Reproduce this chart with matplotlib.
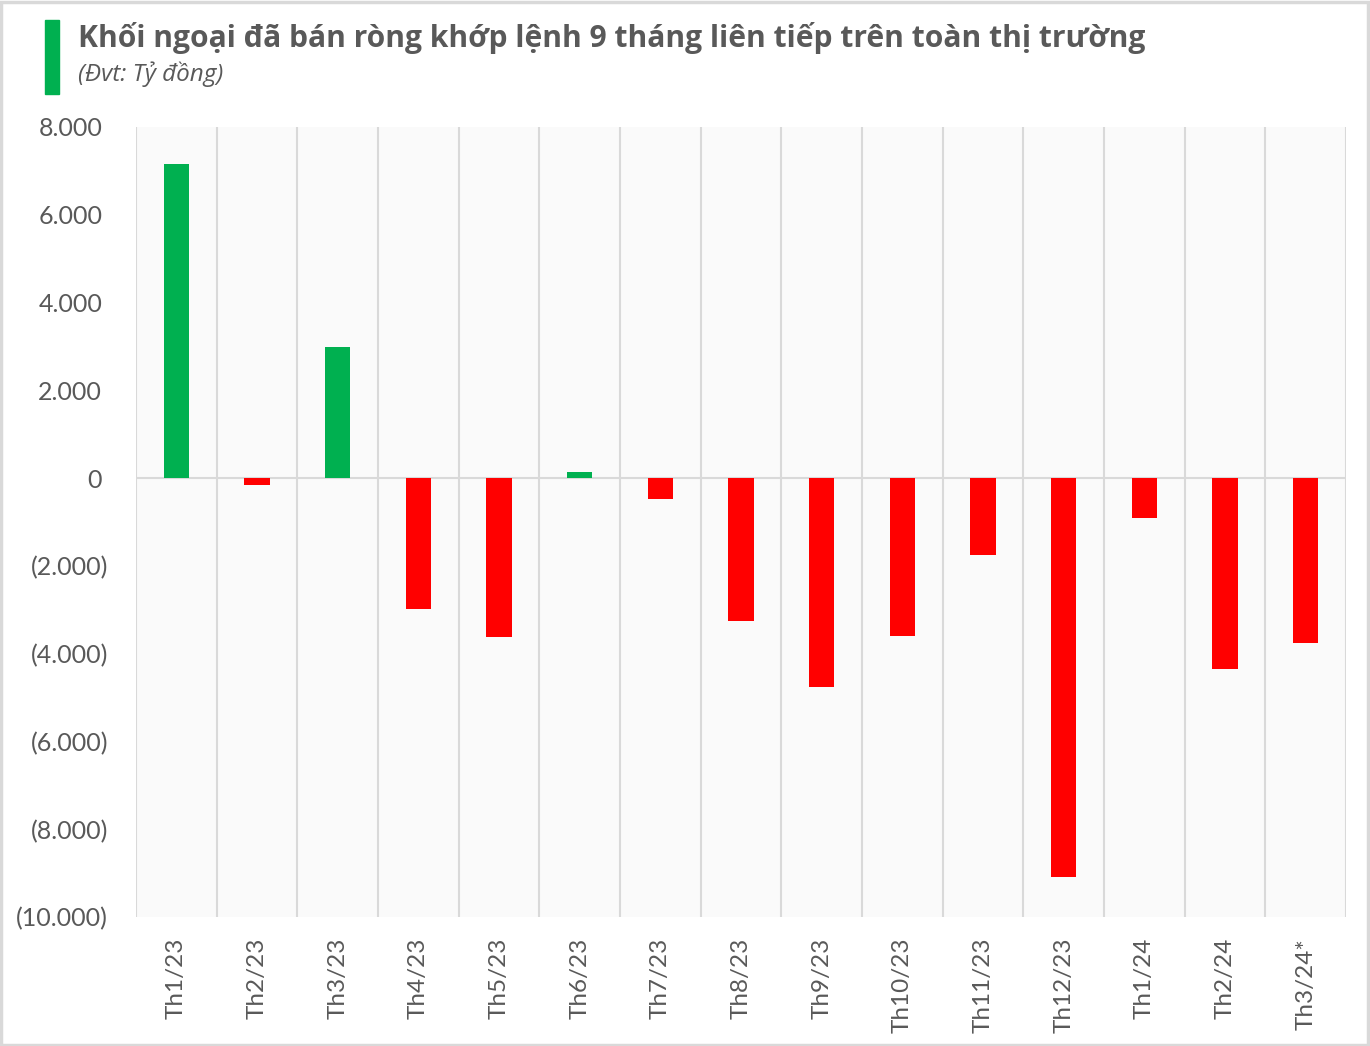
import matplotlib
matplotlib.use("Agg")
import matplotlib.pyplot as plt
from matplotlib.patches import Rectangle
from matplotlib.ticker import FuncFormatter, MultipleLocator
from matplotlib.transforms import ScaledTranslation

categories = ["Th1/23", "Th2/23", "Th3/23", "Th4/23", "Th5/23", "Th6/23", "Th7/23",
              "Th8/23", "Th9/23", "Th10/23", "Th11/23", "Th12/23", "Th1/24", "Th2/24", "Th3/24*"]
values = [7160, -160, 2980, -2980, -3610, 140, -470, -3250, -4750, -3590, -1750,
          -9090, -910, -4340, -3750]

title = "Khối ngoại đã bán ròng khớp lệnh 9 tháng liên tiếp trên toàn thị trường"
subtitle = "(Đvt: Tỷ đồng)"

GREEN = "#00B050"
RED = "#FF0000"
TXT = "#595959"
GRID = "#D9D9D9"

fig = plt.figure(figsize=(13.7, 10.46), dpi=100)
W, H = 1370, 1046
ax = fig.add_axes([136 / W, 1 - 917 / H, (1346 - 136) / W, (917 - 127) / H])

colors = [GREEN if v >= 0 else RED for v in values]
x = list(range(len(categories)))
ax.bar(x, values, width=0.31, color=colors, zorder=3)

ax.set_xlim(-0.5, len(categories) - 0.5)
ax.set_ylim(-10000, 8000)
ax.set_facecolor("#FAFAFA")

# vertical category separators
for b in range(len(categories) + 1):
    ax.axvline(b - 0.5, color=GRID, lw=1.5, zorder=1)
ax.axhline(0, color=GRID, lw=1.5, zorder=2)

for s in ax.spines.values():
    s.set_visible(False)

ax.yaxis.set_major_locator(MultipleLocator(2000))

def fmt(v, pos):
    n = int(round(v))
    s = f"{abs(n):,}".replace(",", ".")
    return f"({s})" if n < 0 else s

ax.yaxis.set_major_formatter(FuncFormatter(fmt))
ax.tick_params(axis="y", length=0, pad=20, labelsize=18, labelcolor=TXT)
ax.set_xticks(x)
ax.set_xticklabels(categories, rotation=90)
ax.tick_params(axis="x", length=0, pad=15, labelsize=17.5, labelcolor=TXT)

fig.canvas.draw()
for lab in ax.get_xticklabels() + ax.get_yticklabels():
    lab.set_family("Lato")
shift = ScaledTranslation(-6 / 100, 0, fig.dpi_scale_trans)
for lab in ax.get_yticklabels():
    if not lab.get_text().startswith("("):
        lab.set_transform(lab.get_transform() + shift)

# title block
fig.patches.append(Rectangle((45 / W, 1 - 94 / H), 14 / W, 74 / H, transform=fig.transFigure,
                             color=GREEN, zorder=5))
fig.text(78 / W, 1 - 38 / H, title, fontsize=21.6, fontweight="bold", color=TXT,
         family="Open Sans", va="center", ha="left")
fig.text(78 / W, 1 - 74 / H, subtitle, fontsize=17.5, style="italic", color=TXT,
         family="Open Sans", va="center", ha="left")

# outer border
fig.patches.append(Rectangle((1 / W, 1 / H), (W - 3) / W, (H - 3) / H, transform=fig.transFigure,
                             fill=False, edgecolor=GRID, lw=2.5, zorder=0))

fig.savefig("out.png", dpi=100)
